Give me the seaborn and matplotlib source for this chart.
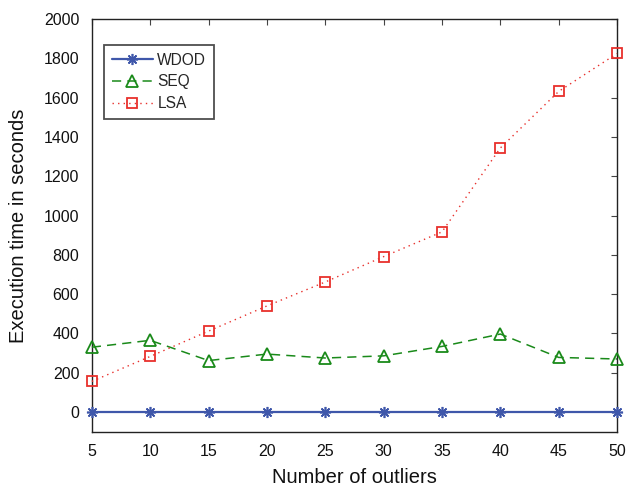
import matplotlib
matplotlib.use("Agg")
import matplotlib.pyplot as plt
import seaborn as sns
import pandas as pd

outliers = [5, 10, 15, 20, 25, 30, 35, 40, 45, 50]
wdod = [0, 0, 0, 0, 0, 0, 0, 0, 0, 0]
seq = [330, 365, 262, 295, 275, 286, 334, 397, 278, 270]
lsa = [156, 283, 412, 540, 662, 791, 917, 1344, 1632, 1825]
y_ticks = list(range(0, 2001, 200))

sns.set_theme(style="white")
plt.rcParams["font.family"] = ["Liberation Sans", "DejaVu Sans"]

df = pd.DataFrame({"Number of outliers": outliers, "WDOD": wdod, "SEQ": seq, "LSA": lsa})

fig = plt.figure(figsize=(6.29, 4.90), dpi=100)
ax = fig.add_axes([0.146, 0.119, 0.835, 0.842])

styles = {
    "WDOD": dict(color="#3f57aa", linestyle="-", marker=(8, 2, 0), markersize=8,
                 linewidth=1.6, markeredgewidth=1.2),
    "SEQ": dict(color="#1a8a1a", linestyle=(0, (6, 4)), marker="^", markersize=8.5,
                linewidth=1.1, markerfacecolor="none", markeredgewidth=1.3),
    "LSA": dict(color="#e8302c", linestyle=(0, (1, 3)), marker="s", markersize=7,
                linewidth=1.0, markerfacecolor="none", markeredgewidth=1.3),
}
for name in ["WDOD", "SEQ", "LSA"]:
    st = styles[name]
    sns.lineplot(data=df, x="Number of outliers", y=name, ax=ax, label=name,
                 color=st["color"], linestyle=st["linestyle"], marker=st["marker"],
                 markersize=st["markersize"], linewidth=st["linewidth"],
                 markeredgewidth=st["markeredgewidth"],
                 markerfacecolor=st.get("markerfacecolor", st["color"]),
                 markeredgecolor=st["color"], clip_on=False, zorder=3)

ax.set_xlim(5, 50)
ax.set_ylim(-100, 2000)
ax.set_xticks(outliers)
ax.set_yticks(y_ticks)
ax.tick_params(direction="in", top=True, right=True, length=4, width=0.8,
               labelsize=11.5, colors="#444444", labelcolor="#111111")
ax.tick_params(axis="x", pad=9)
ax.tick_params(axis="y", pad=9)
for sp in ax.spines.values():
    sp.set_color("#222222")
    sp.set_linewidth(1.0)
    sp.set_zorder(2.5)
ax.set_xlabel("Number of outliers", fontsize=14.5, labelpad=6, color="#111111")
ax.set_ylabel("Execution time in seconds", fontsize=14.5, labelpad=11, color="#111111")

leg = ax.legend(loc="upper left", bbox_to_anchor=(0.024, 0.937), borderaxespad=0,
                frameon=True, fancybox=False, edgecolor="#222222", fontsize=11.2,
                handlelength=2.6, borderpad=0.5, labelspacing=0.42, handletextpad=0.3)
leg.get_frame().set_linewidth(1.3)

fig.savefig("out.png", dpi=100)
